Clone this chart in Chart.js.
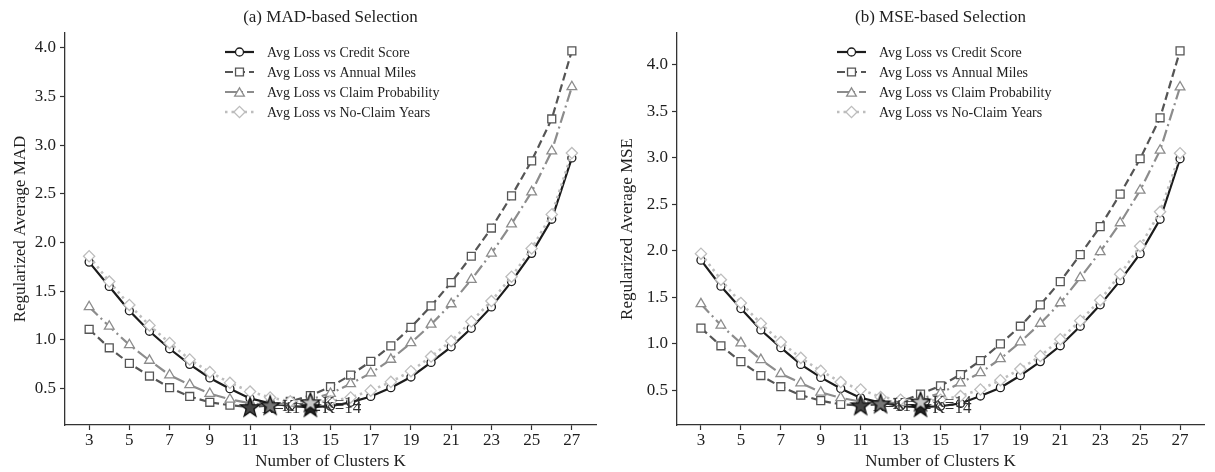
<!DOCTYPE html>
<html>
<head>
<meta charset="utf-8">
<script src="https://cdn.jsdelivr.net/npm/chart.js@4.4.0/dist/chart.umd.min.js"></script>
<style>
  html, body { margin: 0; padding: 0; background: #fff; }
  #wrap { position: relative; width: 1215px; height: 472px; }
  .panel { position: absolute; top: 0; height: 472px; }
</style>
</head>
<body>
<div id="wrap">
  <div class="panel" style="left:0;width:607px"><canvas id="madChart" width="607" height="472"></canvas></div>
  <div class="panel" style="left:607px;width:608px"><canvas id="mseChart" width="608" height="472"></canvas></div>
</div>
<script>
// ==============================
// DATA
// ==============================
const kValues = [3, 4, 5, 6, 7, 8, 9, 10, 11, 12, 13, 14, 15, 16, 17, 18, 19, 20, 21, 22, 23, 24, 25, 26, 27];
const xTicks = [3, 5, 7, 9, 11, 13, 15, 17, 19, 21, 23, 25, 27];
const yTicks = [0.5, 1.0, 1.5, 2.0, 2.5, 3.0, 3.5, 4.0];
const seriesNames = [
  'Avg Loss vs Credit Score',
  'Avg Loss vs Annual Miles',
  'Avg Loss vs Claim Probability',
  'Avg Loss vs No-Claim Years'
];

// (a) MAD-based
const madCredit  = [1.80, 1.55, 1.30, 1.09, 0.91, 0.75, 0.61, 0.50, 0.40, 0.35, 0.32, 0.31, 0.32, 0.36, 0.42, 0.51, 0.62, 0.77, 0.93, 1.12, 1.34, 1.60, 1.89, 2.24, 2.87];
const madMiles   = [1.11, 0.92, 0.76, 0.63, 0.51, 0.42, 0.36, 0.33, 0.31, 0.33, 0.37, 0.43, 0.52, 0.64, 0.78, 0.94, 1.13, 1.35, 1.59, 1.86, 2.15, 2.48, 2.84, 3.27, 3.97];
const madClaim   = [1.34, 1.14, 0.95, 0.79, 0.64, 0.54, 0.45, 0.39, 0.35, 0.33, 0.35, 0.39, 0.45, 0.55, 0.66, 0.80, 0.97, 1.16, 1.37, 1.62, 1.89, 2.19, 2.52, 2.94, 3.60];
const madNoClaim = [1.86, 1.60, 1.36, 1.15, 0.97, 0.80, 0.67, 0.56, 0.47, 0.41, 0.37, 0.36, 0.37, 0.41, 0.48, 0.57, 0.68, 0.83, 0.99, 1.19, 1.40, 1.65, 1.94, 2.29, 2.92];

// (b) MSE-based
const mseCredit  = [1.90, 1.62, 1.38, 1.15, 0.96, 0.78, 0.64, 0.52, 0.42, 0.37, 0.33, 0.32, 0.33, 0.36, 0.44, 0.53, 0.66, 0.81, 0.98, 1.19, 1.42, 1.68, 1.97, 2.34, 2.99];
const mseMiles   = [1.17, 0.98, 0.81, 0.66, 0.54, 0.45, 0.39, 0.35, 0.34, 0.35, 0.38, 0.46, 0.55, 0.67, 0.82, 1.00, 1.19, 1.42, 1.67, 1.96, 2.26, 2.61, 2.99, 3.43, 4.15];
const mseClaim   = [1.43, 1.20, 1.01, 0.83, 0.68, 0.58, 0.48, 0.42, 0.38, 0.36, 0.37, 0.41, 0.47, 0.58, 0.69, 0.84, 1.02, 1.22, 1.44, 1.71, 1.99, 2.30, 2.65, 3.08, 3.76];
const mseNoClaim = [1.97, 1.69, 1.44, 1.22, 1.02, 0.85, 0.71, 0.59, 0.51, 0.43, 0.40, 0.38, 0.40, 0.44, 0.51, 0.61, 0.73, 0.87, 1.05, 1.25, 1.47, 1.75, 2.05, 2.42, 3.05];

// ==============================
// STYLES
// ==============================
const FONT = "'Liberation Serif', 'DejaVu Serif', serif";
const TEXT = '#1e1e1e';
const AXIS = '#333333';

const lineStyles = [
  { color: '#1c1c1c', dash: [],             marker: 'circle',   radius: 4,   width: 2.2 },
  { color: '#555555', dash: [8, 4],         marker: 'rect',     radius: 5.6, width: 2.2 },
  { color: '#8c8c8c', dash: [12, 4, 2, 4],  marker: 'triangle', radius: 5.6, width: 2.2 },
  { color: '#bdbdbd', dash: [2.5, 4],       marker: 'rectRot',  radius: 5.6, width: 2.6 }
];
const starFills = ['#222222', '#444444', '#777777', '#c8c8c8'];

function makeStar(fill, r) {
  const size = Math.ceil(r * 2 + 4);
  const c = document.createElement('canvas');
  c.width = size;
  c.height = size;
  const g = c.getContext('2d');
  const cx = size / 2, cy = size / 2 + 0.8;
  g.beginPath();
  for (let i = 0; i < 10; i++) {
    const rad = i % 2 ? r * 0.4 : r;
    const a = -Math.PI / 2 + i * Math.PI / 5;
    const px = cx + Math.cos(a) * rad, py = cy + Math.sin(a) * rad;
    if (i === 0) g.moveTo(px, py); else g.lineTo(px, py);
  }
  g.closePath();
  g.fillStyle = fill;
  g.fill();
  g.lineWidth = 1.3;
  g.strokeStyle = '#111';
  g.stroke();
  return c;
}
const starImages = starFills.map(f => makeStar(f, 10));

// marker for legend (same geometry as Chart.js point styles)
function drawMarker(ctx, st, x, y) {
  const r = st.radius;
  ctx.beginPath();
  if (st.marker === 'circle') {
    ctx.arc(x, y, r, 0, Math.PI * 2);
  } else if (st.marker === 'rect') {
    const s = Math.SQRT1_2 * r;
    ctx.rect(x - s, y - s, 2 * s, 2 * s);
  } else if (st.marker === 'triangle') {
    const a = -Math.PI / 2;
    for (let i = 0; i < 3; i++) {
      const t = a + i * 2 * Math.PI / 3;
      const px = x + Math.cos(t) * r, py = y + Math.sin(t) * r + r * 0.25;
      if (i === 0) ctx.moveTo(px, py); else ctx.lineTo(px, py);
    }
    ctx.closePath();
  } else {
    ctx.moveTo(x - r, y); ctx.lineTo(x, y - r); ctx.lineTo(x + r, y); ctx.lineTo(x, y + r);
    ctx.closePath();
  }
  ctx.fillStyle = '#fff';
  ctx.fill();
  ctx.lineWidth = 1.3;
  ctx.strokeStyle = st.color;
  ctx.stroke();
}

// ==============================
// PANEL DECORATION (title, legend, K labels)
// ==============================
const panelDecor = {
  id: 'panelDecor',
  beforeDatasetsDraw(chart) { chart.$labelsDone = false; },
  beforeDatasetDraw(chart, args, opts) {
    // K= labels go under the stars but over the curves
    if (chart.$labelsDone || !chart.data.datasets[args.index].isStars) return;
    chart.$labelsDone = true;
    const { ctx, scales } = chart;
    const stars = chart.data.datasets[args.index].data;
    ctx.save();
    ctx.font = '17px ' + FONT;
    ctx.textBaseline = 'middle';
    ctx.textAlign = 'left';
    stars.forEach(p => {
      const px = scales.x.getPixelForValue(p.x);
      const py = scales.y.getPixelForValue(p.y);
      ctx.fillStyle = '#333';
      ctx.fillText('K=' + p.x, px + 12, py + 1);
    });
    ctx.restore();
  },
  afterDraw(chart, args, opts) {
    const { ctx, chartArea } = chart;
    ctx.save();
    // title
    ctx.font = '17px ' + FONT;
    ctx.fillStyle = TEXT;
    ctx.textAlign = 'center';
    ctx.textBaseline = 'middle';
    ctx.fillText(opts.title, (chartArea.left + chartArea.right) / 2, 18);

    // legend
    const x0 = chartArea.left + 160;
    ctx.font = '14px ' + FONT;
    ctx.textAlign = 'left';
    seriesNames.forEach((name, i) => {
      const st = lineStyles[i];
      const y = 52 + i * 20;
      ctx.beginPath();
      ctx.setLineDash(st.dash);
      ctx.lineWidth = st.width;
      ctx.strokeStyle = st.color;
      ctx.moveTo(x0, y);
      ctx.lineTo(x0 + 29, y);
      ctx.stroke();
      ctx.setLineDash([]);
      drawMarker(ctx, st, x0 + 14.5, y);
      ctx.fillStyle = TEXT;
      ctx.fillText(name, x0 + 42, y + 1);
    });
    ctx.restore();
  }
};

// ==============================
// BUILD A PANEL
// ==============================
function buildPanel(canvasId, title, yTitle, series, yWidth, padRight) {
  const all = series.flat();
  const lo = Math.min(...all), hi = Math.max(...all);
  const yPad = (hi - lo) * 0.05;
  const kMin = kValues[0], kMax = kValues[kValues.length - 1];
  const xPad = (kMax - kMin) * 0.05;

  const datasets = series.map((vals, i) => ({
    label: seriesNames[i],
    data: kValues.map((k, j) => ({ x: k, y: vals[j] })),
    borderColor: lineStyles[i].color,
    borderWidth: lineStyles[i].width,
    borderDash: lineStyles[i].dash,
    pointStyle: lineStyles[i].marker,
    pointRadius: lineStyles[i].radius,
    pointBackgroundColor: '#ffffff',
    pointBorderColor: lineStyles[i].color,
    pointBorderWidth: 1.3,
    tension: 0,
    order: 10 - i
  }));

  // minimum of each curve marked with a star
  const starData = series.map(vals => {
    const j = vals.indexOf(Math.min(...vals));
    return { x: kValues[j], y: vals[j] };
  });
  datasets.push({
    label: 'min',
    isStars: true,
    data: starData,
    showLine: false,
    pointStyle: starImages,
    pointRadius: 10,
    order: 0
  });

  const axisFont = { family: FONT, size: 17 };

  return new Chart(document.getElementById(canvasId), {
    type: 'line',
    data: { datasets },
    plugins: [panelDecor],
    options: {
      responsive: false,
      devicePixelRatio: 1,
      animation: false,
      events: [],
      layout: { padding: { top: 33, right: padRight, left: 0, bottom: 0 } },
      plugins: {
        legend: { display: false },
        tooltip: { enabled: false },
        panelDecor: { title }
      },
      scales: {
        x: {
          type: 'linear',
          min: kMin - xPad,
          max: kMax + xPad,
          afterBuildTicks: s => { s.ticks = xTicks.map(v => ({ value: v })); },
          afterFit: s => { s.height = 47; },
          ticks: { color: TEXT, font: axisFont, padding: 0, maxRotation: 0, autoSkip: false, callback: v => String(v) },
          grid: { drawOnChartArea: false, color: AXIS, tickLength: 5, tickWidth: 1.2 },
          border: { color: AXIS, width: 1.3 },
          title: { display: true, text: 'Number of Clusters K', color: TEXT, font: axisFont, padding: { top: 0, bottom: 0 } }
        },
        y: {
          type: 'linear',
          min: lo - yPad,
          max: hi + yPad,
          afterBuildTicks: s => { s.ticks = yTicks.map(v => ({ value: v })); },
          afterFit: s => { s.width = yWidth; },
          ticks: { color: TEXT, font: axisFont, padding: 4, callback: v => v.toFixed(1) },
          grid: { drawOnChartArea: false, color: AXIS, tickLength: 5, tickWidth: 1.2 },
          border: { color: AXIS, width: 1.3 },
          title: { display: true, text: yTitle, color: TEXT, font: axisFont, padding: { top: 10, bottom: 0 } }
        }
      }
    }
  });
}

buildPanel('madChart', '(a) MAD-based Selection', 'Regularized Average MAD',
  [madCredit, madMiles, madClaim, madNoClaim], 65, 2);
buildPanel('mseChart', '(b) MSE-based Selection', 'Regularized Average MSE',
  [mseCredit, mseMiles, mseClaim, mseNoClaim], 70, 0);
</script>
</body>
</html>
